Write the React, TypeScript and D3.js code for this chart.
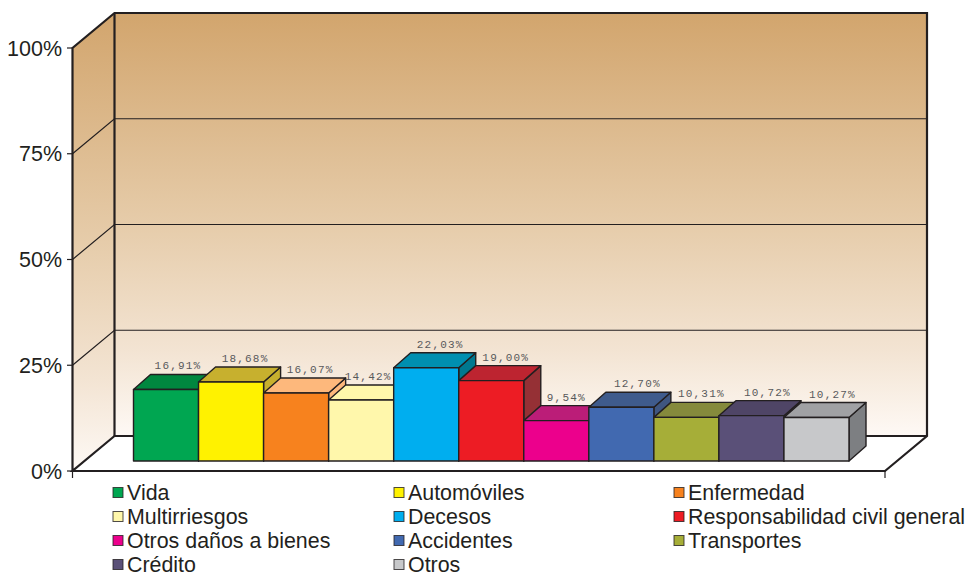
import React from "react";
import * as d3 from "d3";

const categories = ["Vida","Automóviles","Enfermedad","Multirriesgos","Decesos","Responsabilidad civil general","Otros daños a bienes","Accidentes","Transportes","Crédito","Otros"];
const values = [16.91,18.68,16.07,14.42,22.03,19.0,9.54,12.7,10.31,10.72,10.27];
const valueLabels = ["16,91%","18,68%","16,07%","14,42%","22,03%","19,00%","9,54%","12,70%","10,31%","10,72%","10,27%"];
const frontColors = ["#00a651","#fff200","#f7821e","#fff7ab","#00aeef","#ed1c24","#ec008c","#4169b0","#a6ae38","#5a5078","#c7c8ca"];
const topColors = ["#00873f","#c7b02e","#fdb87c","#fff7ab","#008fb0","#bd2430","#bb1d78","#3f5b8c","#858a3c","#4f4566","#a0a1a4"];
const sideColors = ["#007a3a","#c7b02e","#fdb87c","#e6dc96","#00788f","#953035","#a01a66","#3f5680","#70752f","#453c5a","#7d7f82"];
const yTicks = [0,25,50,75,100];
const labelShift = [12,14,14,7,14,14.5,10,16,15,16,16];

const W = 972, H = 574;
const ink = "#231f20";
const dx = 42, dy = -35;
const barDx = 17, barDy = -15;
const y = d3.scaleLinear().domain([0,100]).range([471,48]);
const xFront: [number, number] = [72.5, 885];
const x = d3.scaleBand<string>().domain(categories).range([133.5,849]).padding(0);
const legendX = d3.scaleOrdinal<number,number>().domain([0,1,2]).range([113,394,674]);
const legendY = d3.scaleLinear().domain([0,3]).range([492.5,564.5]);
const baseY = 461;
const bh = (v:number) => y(0)-y(v);

export default function App(){
  const poly = (p:[number,number][]) => p.map(q=>q.join(",")).join(" ");
  return (
    <svg width={W} height={H} style={{position:"absolute",left:0,top:0,background:"#fff"}} fontFamily="'Liberation Sans', Arial, sans-serif">
      <defs>
        <linearGradient id="wall" x1="0" y1="0" x2="0" y2="1">
          <stop offset="0" stopColor="#d2a56d"/>
          <stop offset="0.5" stopColor="#e6ccaa"/>
          <stop offset="0.8" stopColor="#f3e4d3"/>
          <stop offset="1" stopColor="#fef9f5"/>
        </linearGradient>
      </defs>
      <rect x={xFront[0]+dx} y={y(100)+dy} width={xFront[1]-xFront[0]} height={y(0)-y(100)} fill="url(#wall)"/>
      <polygon points={poly([[xFront[0],y(100)],[xFront[0]+dx,y(100)+dy],[xFront[0]+dx,y(0)+dy],[xFront[0],y(0)]])} fill="url(#wall)"/>
      {yTicks.slice(1,-1).map(t=>(
        <g key={t} stroke={ink} strokeWidth={1.2} fill="none">
          <polyline points={poly([[xFront[0],y(t)],[xFront[0]+dx,y(t)+dy],[xFront[1]+dx,y(t)+dy]])}/>
        </g>
      ))}
      <g stroke={ink} fill="none" strokeWidth={2.2}>
        <polyline points={poly([[xFront[0],y(0)],[xFront[0],y(100)],[xFront[0]+dx,y(100)+dy],[xFront[1]+dx,y(100)+dy],[xFront[1]+dx,y(0)+dy],[xFront[1],y(0)],[xFront[0],y(0)],[xFront[0]+dx,y(0)+dy],[xFront[1]+dx,y(0)+dy]])}/>
        <line x1={xFront[0]+dx} x2={xFront[0]+dx} y1={y(100)+dy} y2={y(0)+dy}/>
      </g>
      {yTicks.map(t=>(
        <g key={t}>
          <line x1={67} x2={xFront[0]} y1={y(t)} y2={y(t)} stroke={ink} strokeWidth={1.2}/>
          <text x={62} y={y(t)+7.5} textAnchor="end" fontSize={21.5} fill={ink}>{t}%</text>
        </g>
      ))}
      {xFront.map(v=><line key={v} x1={v} x2={v} y1={y(0)} y2={478} stroke={ink} strokeWidth={1.2}/>)}
      {categories.map((c,i)=>{
        const x0 = x(c)!, w = x.bandwidth(), top = baseY-bh(values[i]);
        return (
          <g key={c} stroke={ink} strokeWidth={1.4} strokeLinejoin="round">
            <polygon fill={sideColors[i]} points={poly([[x0+w,top],[x0+w+barDx,top+barDy],[x0+w+barDx,baseY+barDy],[x0+w,baseY]])}/>
            <polygon fill={topColors[i]} points={poly([[x0,top],[x0+barDx,top+barDy],[x0+w+barDx,top+barDy],[x0+w,top]])}/>
            <rect x={x0} y={top} width={w} height={baseY-top} fill={frontColors[i]}/>
          </g>
        );
      })}
      {categories.map((c,i)=>(
        <text key={c} x={x(c)!+x.bandwidth()/2+labelShift[i]} y={baseY-bh(values[i])+barDy-5} textAnchor="middle" fontFamily="'Liberation Mono', monospace" fontSize={11} letterSpacing={1.2} fill="#58595b">{valueLabels[i]}</text>
      ))}
      {categories.map((c,i)=>{
        const lx = legendX(i%3), ly = legendY(Math.floor(i/3));
        return (
          <g key={c}>
            <rect x={lx} y={ly-5} width={10} height={10} fill={frontColors[i]} stroke={ink} strokeOpacity={0.8} strokeWidth={1}/>
            <text x={lx+14} y={ly+7} fontSize={21.4} fill={ink}>{c}</text>
          </g>
        );
      })}
    </svg>
  );
}
